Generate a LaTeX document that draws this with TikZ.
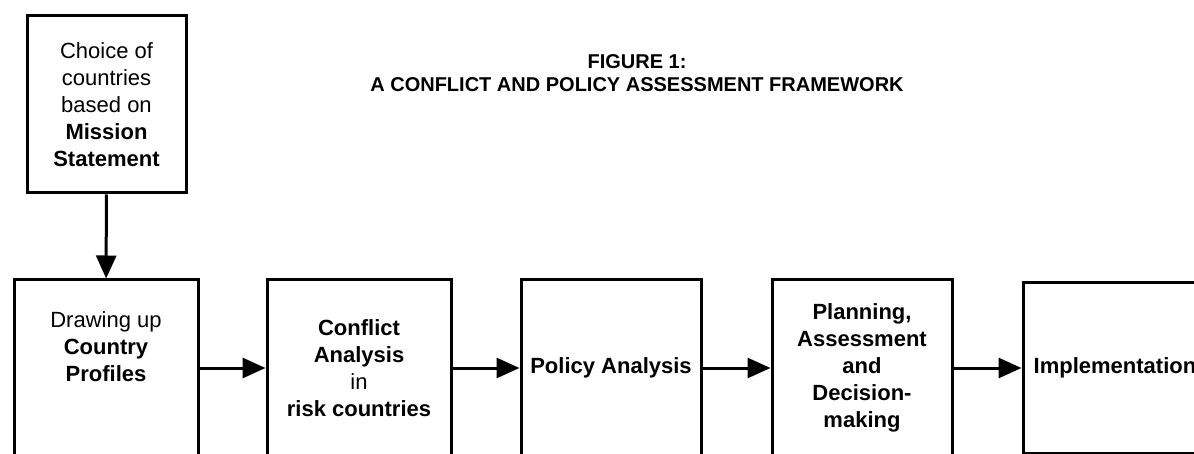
\documentclass[tikz,border=0pt]{standalone}
\usepackage{fontspec}
\setmainfont{Liberation Sans}
\usetikzlibrary{positioning,arrows.meta}

\tikzset{
  stagetext/.style={align=center, font=\fontsize{22}{27}\selectfont},
  stage/.style={draw, line width=3pt, minimum width=184pt, minimum height=176pt, inner sep=0pt, stagetext},
  flow/.style={-{Triangle[length=23pt,width=20pt]}, line width=3pt},
}

\begin{document}
\begin{tikzpicture}[x=1pt,y=-1pt]
	\useasboundingbox (0,0) rectangle (1194,454);
	% title
	\node[align=center, font=\bfseries\fontsize{20}{23}\selectfont] (title) at (637,73) {FIGURE 1:\\A CONFLICT AND POLICY ASSESSMENT FRAMEWORK};
	% boxes
	\node[stage, minimum width=159pt, minimum height=177pt] (choice) at (106.5,104.5) {Choice of\\countries\\based on\\\textbf{Mission}\\\textbf{Statement}};
	\node[stage, label={[stagetext, yshift=21pt]center:Drawing up\\\textbf{Country}\\\textbf{Profiles}}] (profiles) at (106,368) {};
	\node[stage] (conflict) at (359,368) {\textbf{Conflict}\\\textbf{Analysis}\\in\\\textbf{risk countries}};
	\node[stage, minimum width=180pt] (policy) at (611,368) {\textbf{Policy Analysis}};
	\node[stage, minimum width=180pt] (planning) at (862,368) {\textbf{Planning,}\\\textbf{Assessment}\\\textbf{and}\\\textbf{Decision-}\\\textbf{making}};
	\node[stage, minimum height=170pt] (implementation) at (1115,368) {\textbf{Implementation}};
	% arrows
	\draw[flow] (choice) -- (profiles);
	\draw[flow] (profiles) -- (conflict);
	\draw[flow] (conflict) -- (policy);
	\draw[flow] (policy) -- (planning);
	\draw[flow] (planning) -- (implementation);
\end{tikzpicture}
\end{document}
